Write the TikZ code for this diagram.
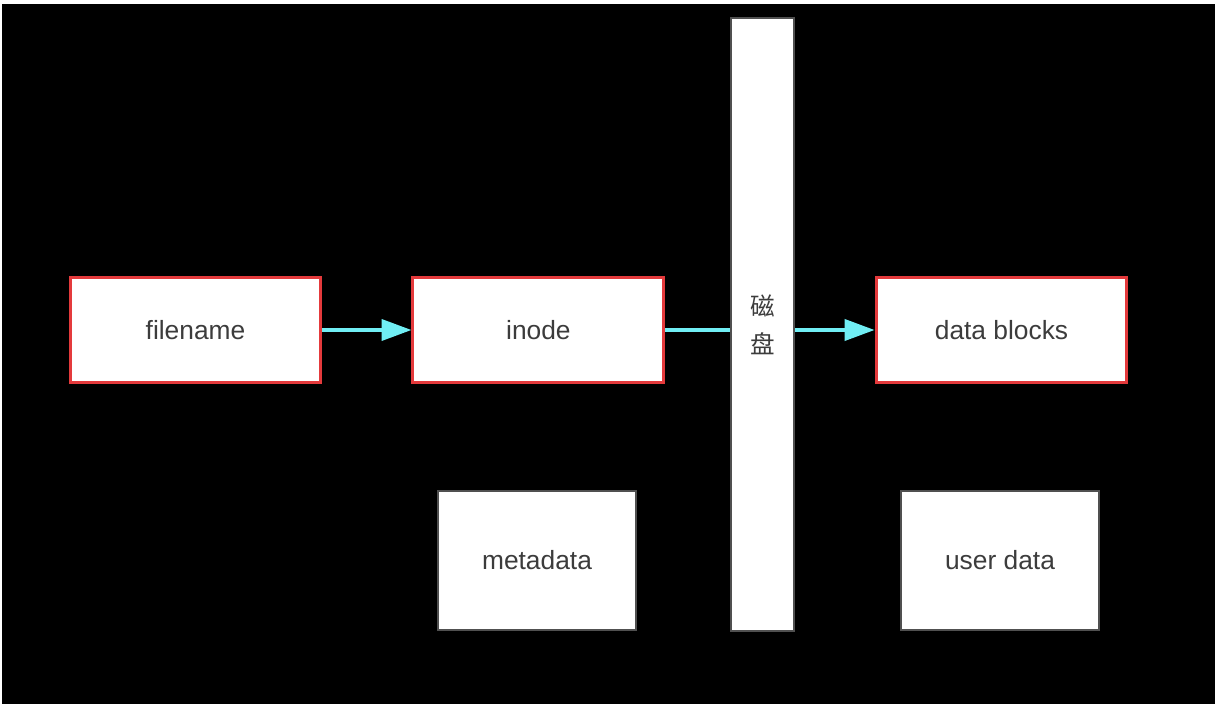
\documentclass[tikz,border=0pt]{standalone}
\usepackage{fontspec}
\setmainfont{Liberation Sans}
\newfontfamily\cjk{Noto Sans CJK SC}
\usetikzlibrary{arrows.meta,positioning}

\definecolor{boxred}{RGB}{228,58,60}
\definecolor{linkcyan}{RGB}{112,238,244}
\definecolor{boxgray}{RGB}{80,80,80}
\definecolor{labelgray}{RGB}{60,60,60}

\begin{document}
\begin{tikzpicture}[
  x=0.02cm, y=-0.02cm,
  font=\fontsize{15}{18}\selectfont,
  >={Triangle[length=17pt,width=12pt]},
  link/.style={draw=linkcyan, line width=2pt},
  redbox/.style={
    draw=boxred,
    fill=white,
    line width=1.7pt,
    minimum width=5.02cm,
    minimum height=2.12cm,
    text=labelgray
  },
  plainbox/.style={
    draw=boxgray,
    fill=white,
    line width=1.4pt,
    minimum width=3.96cm,
    minimum height=2.78cm,
    text=labelgray
  }
]

% page and black background
\useasboundingbox (0,0) rectangle (1223,712);
\fill[white] (0,0) rectangle (1223,712);
\fill[black] (2,4) rectangle (1215,704);

% disk bar in the middle
\node[draw=boxgray, fill=white, line width=1.4pt, minimum width=1.26cm,
  minimum height=12.26cm, align=center, text=labelgray,
  font=\cjk\fontsize{14}{21.5}\selectfont] (disk) at (762.5,324.5) {磁\\盘};

% lookup chain
\node[redbox] (filename) at (195.5,330) {filename};
\node[redbox, right=1.78cm of filename] (inode) {inode};
\node[redbox] (blocks) at (1001.5,330) {data blocks};

% what each side holds
\node[plainbox] (meta) at (537,560.5) {metadata};
\node[plainbox] (userdata) at (1000,560.5) {user data};

\draw[link, ->] (filename) -- (inode);
\draw[link] (inode) -- (inode -| disk.west);
\draw[link, ->] (blocks -| disk.east) -- (blocks);

\end{tikzpicture}
\end{document}
